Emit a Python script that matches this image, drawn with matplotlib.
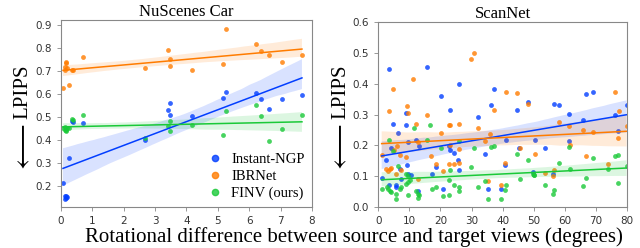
import numpy as np
import matplotlib
matplotlib.use("Agg")
import matplotlib.pyplot as plt
import seaborn as sns

# NuScenes Car: rotation (deg) vs LPIPS
nus_x = [0.07, 0.12, 0.14, 0.16, 0.18, 0.20, 0.26, 0.37, 0.38, 0.72, 2.68,
         3.40, 3.48, 3.49, 4.18, 5.18, 5.25, 6.22, 6.37, 6.62, 7.03, 7.68]
nus_ngp = [0.214, 0.160, 0.145, 0.150, 0.160, 0.155, 0.325, 0.483, 0.480, 0.476, 0.400,
           0.533, 0.562, 0.512, 0.506, 0.584, 0.610, 0.606, 0.578, 0.538, 0.578, 0.596]
nus_ibr = [0.625, 0.705, 0.720, 0.735, 0.740, 0.712, 0.642, 0.707, 0.705, 0.761, 0.713,
           0.793, 0.722, 0.751, 0.707, 0.733, 0.883, 0.819, 0.789, 0.771, 0.738, 0.771]
nus_finv = [0.452, 0.456, 0.446, 0.440, 0.445, 0.454, 0.455, 0.493, 0.487, 0.509, 0.410,
            0.461, 0.484, 0.439, 0.465, 0.425, 0.528, 0.555, 0.506, 0.397, 0.448, 0.509]

# ScanNet
scan_ngp_x = [1.1, 3.4, 2.6, 3.5, 4.1, 4.6, 6.2, 5.6, 5.7, 7.2, 7.0, 8.9, 8.9, 9.7, 9.3,
              10.4, 9.7, 12.0, 13.1, 12.9, 15.7, 17.2, 18.6, 20.2, 20.9, 22.6, 23.2,
              23.1, 24.2, 25.5, 26.1, 26.1, 32.2, 34.2, 35.2, 36.2, 37.1, 39.4, 40.8,
              41.1, 44.5, 45.3, 48.0, 49.7, 50.5, 53.7, 56.2, 56.4, 58.1, 61.2, 61.4,
              65.9, 66.8, 69.0, 76.2, 77.0, 79.8]
scan_ngp = [0.095, 0.447, 0.152, 0.070, 0.190, 0.271, 0.241, 0.065, 0.073, 0.092, 0.125,
            0.266, 0.306, 0.211, 0.136, 0.105, 0.106, 0.217, 0.197, 0.052, 0.455, 0.108,
            0.130, 0.361, 0.060, 0.197, 0.315, 0.184, 0.174, 0.152, 0.398, 0.119, 0.293,
            0.171, 0.058, 0.331, 0.383, 0.058, 0.136, 0.219, 0.315, 0.190, 0.342, 0.114,
            0.217, 0.192, 0.108, 0.333, 0.331, 0.302, 0.214, 0.284, 0.366, 0.372, 0.300,
            0.247, 0.330]
scan_ibr_x = [1.1, 2.5, 3.2, 3.5, 3.8, 4.1, 4.6, 5.2, 5.6, 6.1, 7.0, 7.3, 8.9, 9.3, 9.7,
              11.3, 12.0, 12.9, 12.9, 15.6, 16.9, 18.6, 20.2, 20.7, 22.6, 23.1, 22.6,
              23.1, 24.2, 26.0, 26.1, 25.8, 29.9, 30.9, 32.2, 34.2, 35.2, 36.0, 37.1,
              39.4, 40.8, 41.1, 44.5, 45.7, 48.0, 50.5, 53.7, 56.2, 56.4, 58.1, 61.2,
              61.5, 65.8, 66.8, 69.0, 73.9, 76.2, 77.0, 77.3, 79.8]
scan_ibr = [0.170, 0.122, 0.117, 0.312, 0.125, 0.128, 0.382, 0.184, 0.108, 0.197, 0.170,
            0.119, 0.163, 0.328, 0.304, 0.414, 0.271, 0.212, 0.090, 0.298, 0.165, 0.141,
            0.239, 0.117, 0.266, 0.266, 0.139, 0.201, 0.141, 0.271, 0.187, 0.143, 0.480,
            0.499, 0.258, 0.215, 0.084, 0.236, 0.315, 0.071, 0.144, 0.374, 0.371, 0.193,
            0.334, 0.171, 0.112, 0.100, 0.119, 0.277, 0.263, 0.201, 0.250, 0.165, 0.242,
            0.141, 0.372, 0.225, 0.312, 0.263]
scan_finv_x = [1.1, 2.7, 3.2, 3.8, 4.1, 3.5, 4.8, 5.6, 5.6, 6.2, 7.0, 7.3, 8.9, 8.9, 9.5,
               9.7, 9.7, 10.2, 11.5, 12.1, 12.9, 12.9, 13.2, 15.6, 16.6, 17.2, 18.6,
               20.1, 20.9, 22.6, 22.8, 23.1, 24.2, 26.0, 26.1, 26.1, 29.8, 30.9, 32.2,
               34.4, 35.2, 36.2, 37.1, 39.4, 40.8, 41.1, 44.5, 45.7, 48.0, 49.7, 50.2,
               50.0, 53.7, 56.2, 56.4, 58.1, 61.2, 61.5, 65.8, 66.8, 69.0, 73.9, 76.2,
               77.0, 77.1, 79.8]
scan_finv = [0.058, 0.065, 0.058, 0.051, 0.049, 0.219, 0.182, 0.027, 0.043, 0.132, 0.059,
             0.065, 0.108, 0.076, 0.081, 0.038, 0.101, 0.089, 0.258, 0.052, 0.043, 0.029,
             0.038, 0.217, 0.266, 0.060, 0.065, 0.190, 0.035, 0.087, 0.040, 0.119, 0.071,
             0.214, 0.065, 0.052, 0.130, 0.192, 0.065, 0.084, 0.027, 0.195, 0.199, 0.025,
             0.056, 0.073, 0.171, 0.092, 0.154, 0.108, 0.103, 0.105, 0.073, 0.041, 0.054,
             0.144, 0.195, 0.122, 0.068, 0.095, 0.159, 0.122, 0.166, 0.168, 0.079, 0.132]

labels = ["Instant-NGP", "IBRNet", "FINV (ours)"]
colors = sns.color_palette("bright")[:3]

plt.rcParams["font.family"] = ["Liberation Serif", "DejaVu Serif"]
plt.rcParams["mathtext.fontset"] = "stix"

fig = plt.figure(figsize=(6.4, 2.48), dpi=100)
ax1 = fig.add_axes([0.095, 0.165, 0.3925, 0.754])
ax2 = fig.add_axes([0.591, 0.165, 0.389, 0.746])

left = [(nus_x, nus_ngp), (nus_x, nus_ibr), (nus_x, nus_finv)]
right = [(scan_ngp_x, scan_ngp), (scan_ibr_x, scan_ibr), (scan_finv_x, scan_finv)]

for ax, sets in [(ax1, left), (ax2, right)]:
    for (xs, ys), c in zip(sets, colors):
        sns.regplot(x=np.array(xs), y=np.array(ys), ax=ax, color=c, seed=0,
                    scatter_kws={"s": 12, "linewidths": 0},
                    line_kws={"linewidth": 1.1})
    for sp in ax.spines.values():
        sp.set_color("#888888")
    ax.tick_params(labelsize=7.5, colors="#333333", length=3, width=0.6,
                   color="#888888")
    ax.set_xlabel("")
    ax.set_ylabel("")

# y labels: "LPIPS" with a long down arrow below it
for xc in (0.036, 0.532):
    fig.text(xc, 0.63, "LPIPS", rotation=90, fontsize=15, ha="center", va="center")
    fig.text(xc, 0.40, r"$\longleftarrow$", rotation=90, fontsize=21,
             ha="center", va="center")

ax1.set_xlim(0, 8)
ax1.set_ylim(0.11, 0.922)
ax1.set_xticks(range(0, 9))
ax1.set_yticks([0.2, 0.3, 0.4, 0.5, 0.6, 0.7, 0.8, 0.9])
ax1.set_title("NuScenes Car", fontsize=12, pad=1)

ax2.set_xlim(0, 80)
ax2.set_ylim(0, 0.6)
ax2.set_xticks(range(0, 81, 10))
ax2.set_yticks([0.0, 0.1, 0.2, 0.3, 0.4, 0.5, 0.6])
ax2.set_title("ScanNet", fontsize=12, pad=1)

for ax in (ax1, ax2):
    for t in ax.get_xticklabels() + ax.get_yticklabels():
        t.set_fontfamily("DejaVu Sans")

proxies = [plt.Line2D([], [], marker="o", ls="", color=c, markersize=4.5, alpha=0.8)
           for c in colors]
ax1.legend(proxies, labels, loc="lower right", frameon=False, fontsize=10.5,
           handletextpad=0.1, labelspacing=0.25, borderaxespad=0.1)

fig.text(0.553, 0.025, "Rotational difference between source and target views (degrees)",
         ha="center", fontsize=15)

fig.savefig("out.png", dpi=100)
